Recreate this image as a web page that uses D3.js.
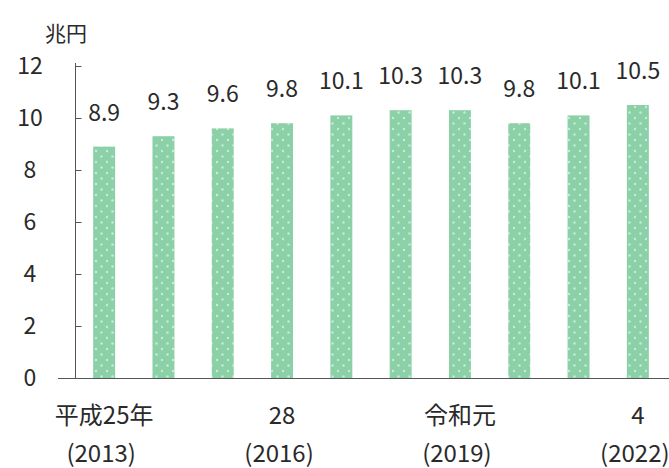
<!DOCTYPE html>
<html><head><meta charset="utf-8">
<script src="https://cdn.jsdelivr.net/npm/d3@7"></script>
<style>
html,body{margin:0;padding:0;background:#fff;}
svg text{font-family:"Noto Sans CJK JP","Noto Sans",sans-serif;fill:#2a2a2a;}
</style></head>
<body>
<svg id="c" width="669" height="468"></svg>
<script>
const years = [2013,2014,2015,2016,2017,2018,2019,2020,2021,2022];
const values = [8.9,9.3,9.6,9.8,10.1,10.3,10.3,9.8,10.1,10.5];
const eraLabels = ["平成25年","","","28","","","令和元","","","4"];
const yearLabels = ["(2013)","","","(2016)","","","(2019)","","","(2022)"];
const yTicks = [0,2,4,6,8,10,12];
const unitLabel = "兆円";

const svg = d3.select("#c");
const defs = svg.append("defs");
const pat = defs.append("pattern").attr("id","dots").attr("patternUnits","userSpaceOnUse")
  .attr("width",11).attr("height",11);
pat.append("rect").attr("width",11).attr("height",11).attr("fill","#8cd0a8");
pat.append("circle").attr("cx",2.5).attr("cy",2.5).attr("r",1.2).attr("fill","#c6ecd4");
pat.append("circle").attr("cx",8).attr("cy",8).attr("r",1.2).attr("fill","#c6ecd4");

const x = d3.scaleBand().domain(years).range([74.5,667.5]).paddingInner(0.63).paddingOuter(0.315);
const y = d3.scaleLinear().domain([0,12]).range([378,66]);

// bars
svg.append("g").selectAll("rect").data(values).join("rect")
  .attr("x",(d,i)=>x(years[i])).attr("width",x.bandwidth())
  .attr("y",d=>y(d)).attr("height",d=>y(0)-y(d))
  .attr("fill","url(#dots)");

// value labels
svg.append("g").selectAll("text").data(values).join("text")
  .attr("x",(d,i)=>x(years[i])+x.bandwidth()/2)
  .attr("y",d=>y(d)-26)
  .attr("text-anchor","middle").attr("font-size",23)
  .text(d=>d.toFixed(1));

// y axis
const ya = svg.append("g").attr("transform","translate(75.5,0)")
  .call(d3.axisRight(y).tickValues(yTicks).tickSize(6).tickFormat(""));
ya.select(".domain").attr("stroke","#555").attr("d","M0,63V378");
ya.selectAll(".tick line").attr("stroke","#555");
svg.append("g").selectAll("text").data(yTicks).join("text")
  .attr("x",30).attr("y",d=>y(d)+8)
  .attr("text-anchor","middle").attr("font-size",23)
  .text(d=>d);

// x axis
svg.append("line").attr("x1",58).attr("x2",669).attr("y1",378.5).attr("y2",378.5)
  .attr("stroke","#555").attr("stroke-width",1.2);

const xl = svg.append("g");
xl.selectAll("text.era").data(eraLabels).join("text").attr("class","era")
  .attr("x",(d,i)=>x(years[i])+x.bandwidth()/2).attr("y",424)
  .attr("text-anchor","middle").attr("font-size",24).text(d=>d);
xl.selectAll("text.yr").data(yearLabels).join("text").attr("class","yr")
  .attr("x",(d,i)=>x(years[i])+x.bandwidth()/2 - 3).attr("y",462)
  .attr("text-anchor","middle").attr("font-size",24).text(d=>d);

svg.append("text").attr("x",66).attr("y",41).attr("text-anchor","middle")
  .attr("font-size",21).text(unitLabel);
</script>
</body></html>
